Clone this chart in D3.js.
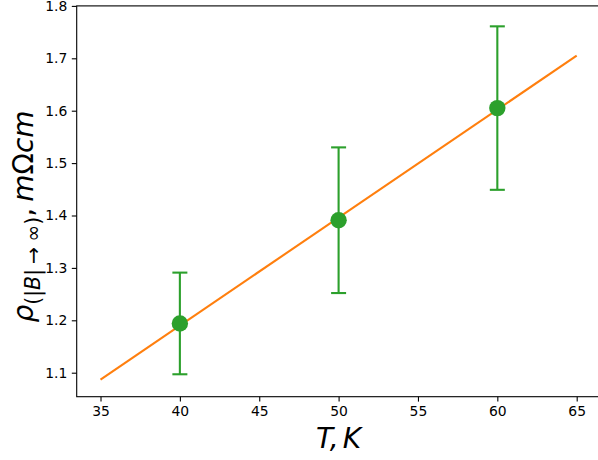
<!DOCTYPE html>
<html lang="en">
<head>
  <meta charset="UTF-8">
  <title>Resistivity vs temperature</title>
  <script src="https://d3js.org/d3.v7.min.js"></script>
  <style>
    html, body { margin: 0; padding: 0; background: #fff; }
    svg { display: block; font-family: "DejaVu Sans", sans-serif; }
  </style>
</head>
<body>
  <svg id="chart" width="598" height="460"></svg>

  <script>
    // measured points
    const temps  = [40, 50, 60];
    const rho    = [1.194, 1.391, 1.605];
    const rhoErr = [0.097, 0.139, 0.156];

    // linear fit line
    const fitT   = [35, 65];
    const fitRho = [1.087, 1.705];

    // tick labels
    const xTicks = [35, 40, 45, 50, 55, 60, 65];
    const yTicks = [1.1, 1.2, 1.3, 1.4, 1.5, 1.6, 1.7, 1.8];

    const svg = d3.select("#chart");

    // axes box (right spine falls just outside the picture)
    const boxL = 76.7, boxR = 600.5, boxT = 5.9, boxB = 396.7;

    const x = d3.scaleLinear().domain([33.5, 66.5]).range([boxL, boxR]);
    const y = d3.scaleLinear().domain([1.0542, 1.8]).range([boxB, boxT]);

    // axes
    const xAxis = svg.append("g")
      .attr("transform", `translate(0,${boxB})`)
      .call(d3.axisBottom(x).tickValues(xTicks).tickFormat(d3.format("d"))
        .tickSizeOuter(0).tickSizeInner(4.9).tickPadding(4.5));
    const yAxis = svg.append("g")
      .attr("transform", `translate(${boxL},0)`)
      .call(d3.axisLeft(y).tickValues(yTicks).tickFormat(d3.format(".1f"))
        .tickSizeOuter(0).tickSizeInner(4.9).tickPadding(4.5));

    [xAxis, yAxis].forEach(g => {
      g.select(".domain").remove();
      g.selectAll(".tick line").attr("stroke", "#000").attr("stroke-width", 1.1);
      g.selectAll(".tick text")
        .attr("fill", "#000")
        .style("font-family", "DejaVu Sans")
        .style("font-size", "13.9px");
    });

    // spines
    svg.append("rect")
      .attr("x", boxL).attr("y", boxT)
      .attr("width", boxR - boxL).attr("height", boxB - boxT)
      .attr("fill", "none")
      .attr("stroke", "#000")
      .attr("stroke-width", 1.1);

    // fit line
    const line = d3.line().x(d => x(d[0])).y(d => y(d[1]));
    svg.append("path")
      .datum(d3.zip(fitT, fitRho))
      .attr("d", line)
      .attr("fill", "none")
      .attr("stroke", "#ff7f0e")
      .attr("stroke-width", 2.1);

    // error bars + markers
    const pts = temps.map((t, i) => ({ t, v: rho[i], e: rhoErr[i] }));
    const green = "#2ca02c";
    const bars = svg.append("g").selectAll("g")
      .data(pts)
      .join("g");

    bars.append("line")
      .attr("x1", d => x(d.t)).attr("x2", d => x(d.t))
      .attr("y1", d => y(d.v - d.e)).attr("y2", d => y(d.v + d.e))
      .attr("stroke", green).attr("stroke-width", 2.1);

    [-1, 1].forEach(s => {
      bars.append("line")
        .attr("x1", d => x(d.t) - 7.5).attr("x2", d => x(d.t) + 7.5)
        .attr("y1", d => y(d.v + s * d.e)).attr("y2", d => y(d.v + s * d.e))
        .attr("stroke", green).attr("stroke-width", 2.1);
    });

    bars.append("circle")
      .attr("cx", d => x(d.t)).attr("cy", d => y(d.v))
      .attr("r", 8.2)
      .attr("fill", green);

    // x label: T, K
    const xl = svg.append("text")
      .attr("x", (boxL + boxR) / 2)
      .attr("y", 447.7)
      .attr("text-anchor", "middle")
      .style("font-size", "28px")
      .style("font-style", "italic");
    xl.append("tspan").text("T,");
    xl.append("tspan").attr("dx", 4).text("K");

    // y label: rho_(|B|->inf), mOhm cm
    const yl = svg.append("text")
      .attr("transform", "translate(32.5,216.5) rotate(-90)")
      .attr("text-anchor", "middle")
      .style("font-size", "28px");
    yl.append("tspan").style("font-style", "italic").text("ρ");
    const sub = yl.append("tspan").attr("dy", 7.5).style("font-size", "20.5px");
    sub.append("tspan").text("(|");
    sub.append("tspan").style("font-style", "italic").text("B");
    sub.append("tspan").text("|");
    sub.append("tspan").attr("dx", 5).text("→");
    sub.append("tspan").attr("dx", 5).text("∞)");
    yl.append("tspan").attr("dy", -7.5).text(",");
    yl.append("tspan").attr("dx", 6).style("font-style", "italic").text("m");
    yl.append("tspan").text("Ω");
    yl.append("tspan").style("font-style", "italic").text("cm");
  </script>
</body>
</html>
